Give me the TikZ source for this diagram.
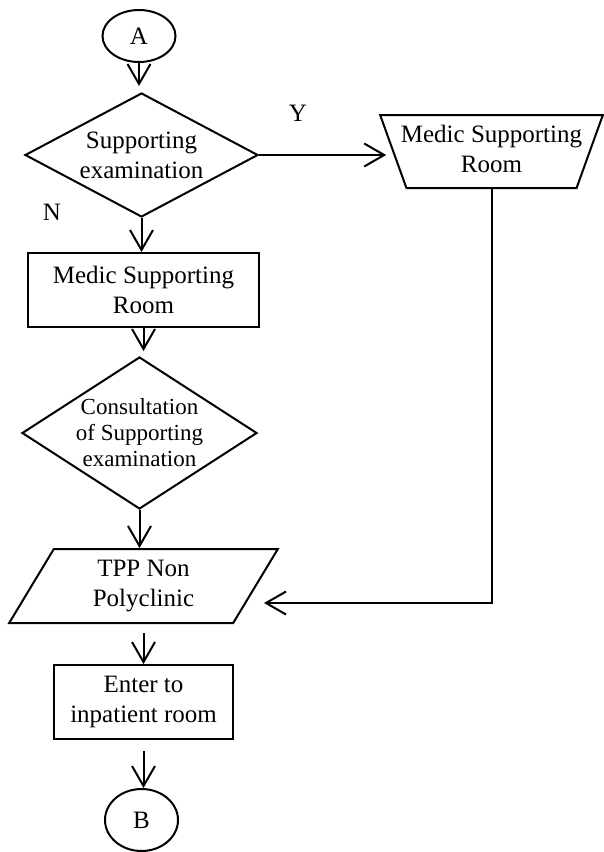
\documentclass[tikz,border=0pt]{standalone}
\usepackage{fontspec}
\setmainfont{Liberation Serif}
\usetikzlibrary{shapes.geometric,arrows.meta}
\begin{document}
\begin{tikzpicture}[x=1pt,y=-1pt,line width=2pt,
        font=\fontsize{25}{30}\selectfont,
        arr/.style={-{Straight Barb[length=20pt,width=23pt]}},
        term/.style={draw,ellipse,inner sep=0pt},
        proc/.style={draw,rectangle,align=center,inner sep=0pt},
        decide/.style={draw,diamond,align=center,inner sep=0pt},
        io/.style={draw,trapezium,trapezium stretches=true,align=center,inner sep=0pt}]
        \useasboundingbox (0,0) rectangle (604,852);
        % Terminals
            \node[term,minimum width=73pt,minimum height=52pt] (A) at (139,36) {A};
            \node[term,minimum width=73pt,minimum height=62pt] (B) at (141.5,820) {B};
        % Decisions
            \node[decide,aspect=1.88,minimum width=233pt,minimum height=124pt] (D1) at (141.5,155) {Supporting\\examination};
            \node[decide,aspect=1.55,inner sep=-3pt,minimum width=235pt,minimum height=152pt,
                font=\fontsize{23}{26}\selectfont] (D2) at (139.5,433) {Consultation\\of Supporting\\examination};
        % Rooms
            \node[proc,minimum width=231pt,minimum height=74pt] (R1) at (143.5,290) {Medic Supporting\\Room};
            \node[io,shape border rotate=180,trapezium angle=70,inner xsep=-20pt,
                minimum width=223pt,minimum height=73pt] (T) at (491.5,151.5) {\raisebox{5pt}{\begin{tabular}{@{}c@{}}Medic Supporting\\Room\end{tabular}}};
            \node[io,trapezium left angle=64,trapezium right angle=116,
                minimum width=269pt,minimum height=74pt] (P) at (143.5,586) {TPP Non\\Polyclinic};
            \node[proc,minimum width=179pt,minimum height=74pt] (R2) at (143.5,702) {Enter to\\inpatient room};
        % Answers
            \node (Y) at (298,113) {Y};
            \node (N) at (52,212) {N};
        % Flow
            \coordinate (ret) at (264,603);
            \draw[arr,shorten >=6pt] (A.south) -- (A.south |- D1.north);
            \draw[arr] (D1.south) -- (D1.south |- R1.north);
            \draw[arr,shorten >=5pt] (R1.south) -- (R1.south |- D2.north);
            \draw[arr] (D2.south) -- (D2.south |- P.north);
            \draw[arr,shorten <=9pt] (P.south) -- (P.south |- R2.north);
            \draw[arr,shorten <=11pt] (R2.south) -- (R2.south |- B.north);
            \draw[arr,shorten >=6pt] (D1.east) -- (D1.east -| T.west);
            \draw[arr] (T.south) |- (ret);
        \end{tikzpicture}
\end{document}
